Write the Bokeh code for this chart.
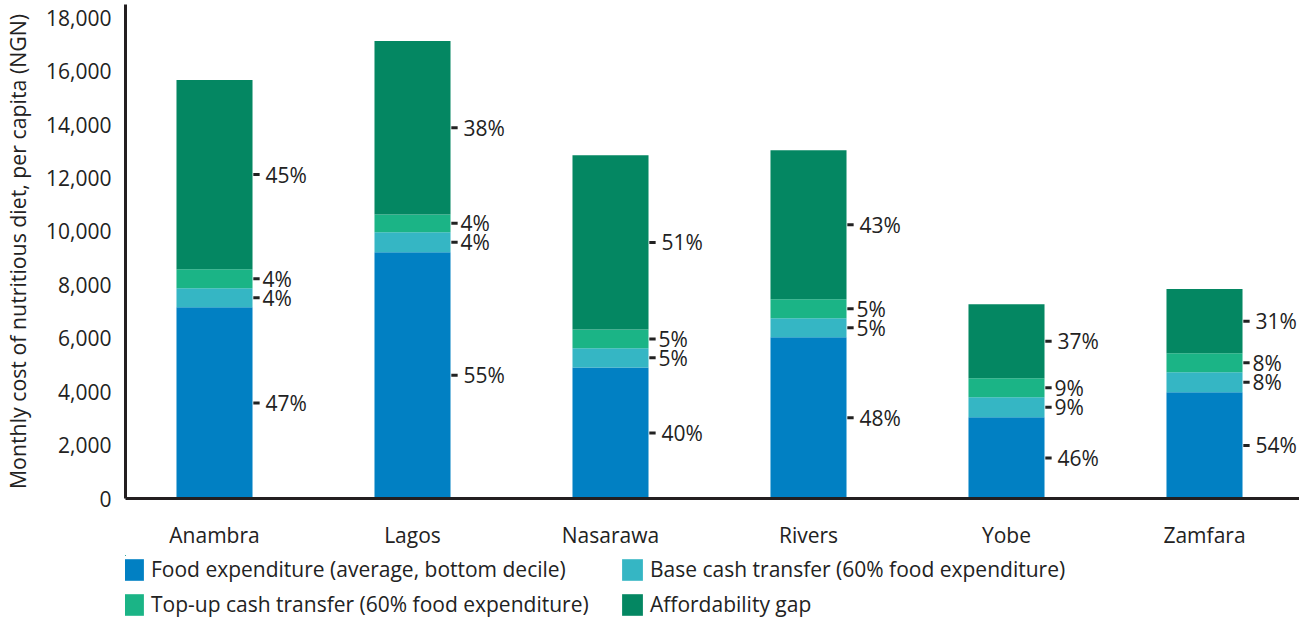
from bokeh.plotting import figure
from bokeh.layouts import column
from bokeh.models import (ColumnDataSource, Legend, LegendItem, Range1d, FixedTicker,
                          NumeralTickFormatter)
from bokeh.core.properties import value
from bokeh.embed import file_html
from bokeh.resources import INLINE

# ---------------- data ----------------
states = ["Anambra", "Lagos", "Nasarawa", "Rivers", "Yobe", "Zamfara"]
food = [7160, 9225, 4910, 6040, 3040, 3975]
base_cash = [715, 750, 715, 710, 750, 750]
topup_cash = [710, 660, 700, 710, 710, 710]
afford_gap = [7090, 6500, 6525, 5580, 2775, 2415]

pct_food = ["47%", "55%", "40%", "48%", "46%", "54%"]
pct_base = ["4%", "4%", "5%", "5%", "9%", "8%"]
pct_topup = ["4%", "4%", "5%", "5%", "9%", "8%"]
pct_gap = ["45%", "38%", "51%", "43%", "37%", "31%"]

series_names = ["Food expenditure (average, bottom decile)",
                "Base cash transfer (60% food expenditure)",
                "Top-up cash transfer (60% food expenditure)",
                "Affordability gap"]
colors = ["#0180C3", "#35B6C4", "#1BB486", "#048762"]

FONT = "Open Sans"
FS = "21px"
TXT = "#222222"
W = 1299

xs = list(range(len(states)))
src = ColumnDataSource(dict(x=xs, food=food, base=base_cash, topup=topup_cash, gap=afford_gap))
stack_cols = ["food", "base", "topup", "gap"]

p = figure(width=W, height=555, output_backend="svg", toolbar_location=None,
           x_range=Range1d(-0.4495, 5.4798), y_range=Range1d(0, 18500),
           min_border_left=125, min_border_right=0, min_border_top=4, min_border_bottom=57)
p.outline_line_color = None
p.xgrid.visible = False
p.ygrid.visible = False
p.background_fill_color = "white"
p.border_fill_color = "white"

BAR_W = 0.384
p.vbar_stack(stack_cols, x="x", width=BAR_W, color=colors, line_width=0, source=src)

# percentage annotations
lab_x, lab_y, lab_t, lab_off = [], [], [], []
seg_x0, seg_x1, seg_y = [], [], []
for i in xs:
    bottom = 0
    for vals, pcts, off in ((food, pct_food, 13), (base_cash, pct_base, 10),
                            (topup_cash, pct_topup, 10), (afford_gap, pct_gap, 13)):
        mid = bottom + vals[i] / 2
        bottom += vals[i]
        lab_x.append(xs[i] + BAR_W / 2)
        lab_y.append(mid)
        lab_t.append(pcts[i])
        lab_off.append(off)
        seg_x0.append(xs[i] + BAR_W / 2 + 0.004)
        seg_x1.append(xs[i] + BAR_W / 2 + 0.036)
        seg_y.append(mid)

p.segment(x0=seg_x0, x1=seg_x1, y0=seg_y, y1=seg_y, line_color=TXT, line_width=3)
lsrc = ColumnDataSource(dict(x=lab_x, y=lab_y, t=lab_t, off=lab_off))
p.text(x="x", y="y", text="t", x_offset="off", source=lsrc, text_font=value(FONT),
       text_font_size=FS, text_color=TXT, text_baseline="middle", text_align="left")

# axes
p.yaxis.ticker = FixedTicker(ticks=list(range(0, 18001, 2000)))
p.yaxis.formatter = NumeralTickFormatter(format="0,0")
p.yaxis.axis_label = "Monthly cost of nutritious diet, per capita (NGN)"
p.xaxis.ticker = FixedTicker(ticks=xs)
p.xaxis.major_label_overrides = {i: s for i, s in zip(xs, states)}
for ax in (p.xaxis[0], p.yaxis[0]):
    ax.axis_line_color = "#231f20"
    ax.axis_line_width = 3
    ax.major_tick_line_color = None
    ax.minor_tick_line_color = None
    ax.major_tick_out = 0
    ax.major_tick_in = 0
    ax.minor_tick_out = 0
    ax.major_label_text_font = FONT
    ax.major_label_text_font_size = FS
    ax.major_label_text_color = TXT
    ax.axis_label_text_font = FONT
    ax.axis_label_text_font_size = "21.3px"
    ax.axis_label_text_font_style = "normal"
    ax.axis_label_text_color = TXT
p.yaxis.major_label_standoff = 14
p.yaxis.axis_label_standoff = 11
p.xaxis.major_label_standoff = 22

# ---------------- legend panel ----------------
# the same stacked bars, drawn into a panel whose ranges lie outside the data,
# so only their legend is visible
pl = figure(width=W, height=64, output_backend="svg", toolbar_location=None,
            x_range=Range1d(100, 101), y_range=Range1d(-2, -1), min_border=0,
            x_axis_location=None, y_axis_location=None)
pl.xgrid.visible = False
pl.ygrid.visible = False
pl.outline_line_color = None
leg_rs = pl.vbar_stack(stack_cols, x="x", width=BAR_W, color=colors, line_width=0, source=src)
legend = Legend(items=[LegendItem(label=n, renderers=[r]) for n, r in zip(series_names, leg_rs)],
                orientation="horizontal", ncols=2, location=(-5, 1),
                glyph_width=26, glyph_height=27, label_standoff=5, label_width=461,
                spacing=7, padding=0, margin=0,
                label_text_font=FONT, label_text_font_size=FS, label_text_color=TXT,
                border_line_color=None, background_fill_alpha=0)
pl.add_layout(legend, "center")

layout = column(p, pl, spacing=0)
open("out.html", "w").write(file_html(layout, INLINE))
